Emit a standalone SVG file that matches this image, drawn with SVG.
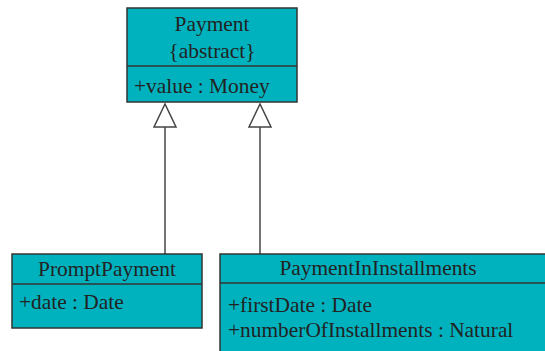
<svg xmlns="http://www.w3.org/2000/svg" width="545" height="351" viewBox="0 0 545 351">
<style>
.box{fill:#00B2BE;stroke:#333;stroke-width:1.5}
.div{stroke:#333;stroke-width:1.5}
text{font-family:"Liberation Serif","Times New Roman",serif;font-size:21.4px;fill:#222}
.c{text-anchor:middle}
.edge{stroke:#444;stroke-width:1.5;fill:none}
.tri{fill:#fff;stroke:#444;stroke-width:1.5}
</style>
<rect width="545" height="351" fill="#fff"/>
<g id="connectors">
<line class="edge" x1="165" y1="127" x2="165" y2="254"/>
<polygon class="tri" points="165,104 154,127 176,127"/>
<line class="edge" x1="260" y1="127" x2="260" y2="254"/>
<polygon class="tri" points="260,104 249,127 271,127"/>
</g>
<g id="Payment">
<rect class="box" x="127" y="8" width="170" height="94"/>
<line class="div" x1="127" y1="66" x2="297" y2="66"/>
<text class="c" x="212" y="31">Payment</text>
<text class="c" x="212" y="58">{abstract}</text>
<text x="134" y="93">+value : Money</text>
</g>
<g id="PromptPayment">
<rect class="box" x="12" y="254" width="190" height="74"/>
<line class="div" x1="12" y1="284" x2="202" y2="284"/>
<text class="c" x="107" y="276">PromptPayment</text>
<text x="19" y="309">+date : Date</text>
</g>
<g id="PaymentInInstallments">
<rect class="box" x="220" y="254" width="330" height="102"/>
<line class="div" x1="220" y1="283" x2="550" y2="283"/>
<text class="c" x="378" y="275">PaymentInInstallments</text>
<text x="228" y="312">+firstDate : Date</text>
<text x="228" y="337">+numberOfInstallments : Natural</text>
</g>
</svg>
